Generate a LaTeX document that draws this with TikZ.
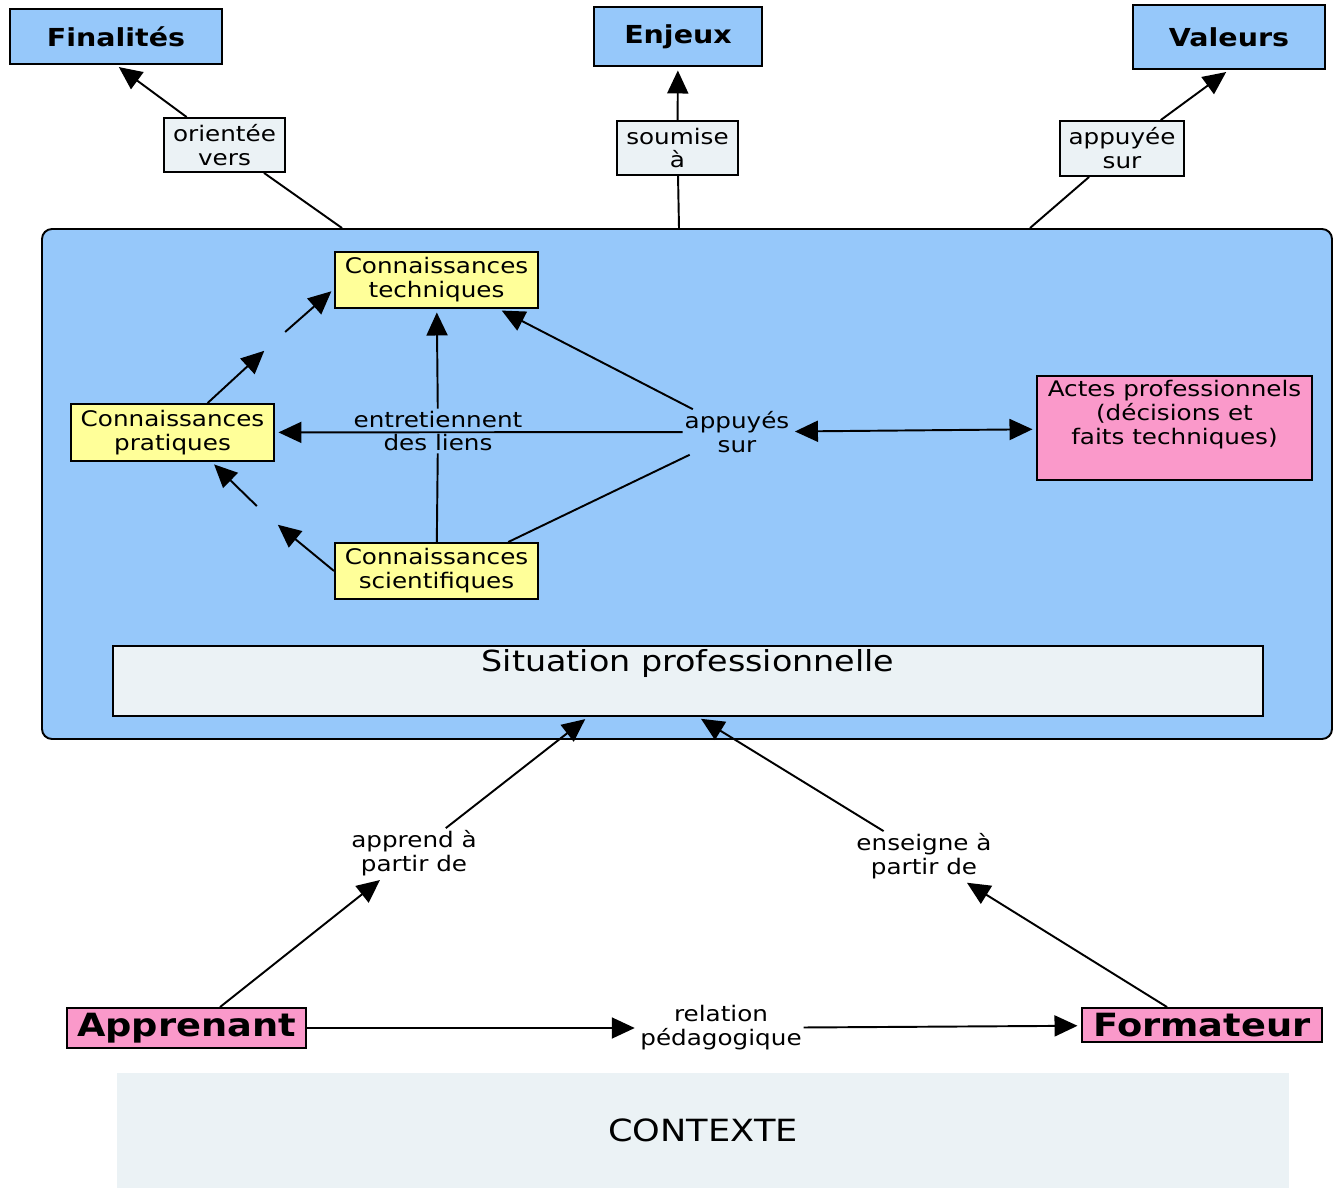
\documentclass[tikz,border=0pt]{standalone}
\usepackage{fontspec}
\setmainfont{DejaVu Sans}[FakeStretch=1.15]
\usetikzlibrary{arrows.meta}
\definecolor{Skyblue}{RGB}{150, 200, 250}
\definecolor{Paleyellow}{RGB}{255, 255, 153}
\definecolor{Rosepink}{RGB}{250, 153, 202}
\definecolor{Palegray}{RGB}{235, 242, 245}

\begin{document}
\begin{tikzpicture}[
  >={Triangle[length=4.6mm,width=4.2mm]},
  cadre/.style={draw, line width=1.1pt, align=center, inner sep=1pt},
  titre/.style={cadre, fill=Skyblue, font=\fontsize{14.1}{17}\selectfont\bfseries},
  lien/.style={cadre, fill=Palegray, minimum width=2.42cm, minimum height=1.08cm, font=\fontsize{12.2}{13.6}\selectfont},
  savoir/.style={cadre, fill=Paleyellow, minimum width=4.06cm, minimum height=1.12cm, font=\fontsize{12.2}{13.6}\selectfont},
  acteur/.style={cadre, fill=Rosepink, font=\fontsize{18.2}{21}\selectfont\bfseries},
  phrase/.style={align=center, inner sep=1pt, font=\fontsize{12.2}{13.6}\selectfont},
  vide/.style={inner sep=5pt},
  fleche/.style={line width=1.1pt, ->, shorten >=2pt},
  trait/.style={line width=1.1pt}
]
\useasboundingbox (0,0) rectangle (26.72,-23.76);
%% the big blue zone first
\node[draw, fill=Skyblue, line width=1.1pt, rounded corners=0.2cm, minimum width=25.80cm, minimum height=10.20cm] (cont) at (13.74,-9.68) {};
\node[fill=Palegray, minimum width=23.44cm, minimum height=2.30cm, font=\fontsize{17.4}{20}\selectfont] (ctx) at (14.06,-22.61) {CONTEXTE};

\node[titre, minimum width=4.24cm, minimum height=1.10cm] (fin) at (2.32,-0.73) {Finalités};
\node[titre, minimum width=3.36cm, minimum height=1.18cm] (enj) at (13.56,-0.73) {Enjeux};
\node[titre, minimum width=3.84cm, minimum height=1.28cm] (val) at (24.58,-0.74) {Valeurs};
\node[lien] (orient) at (4.49,-2.90) {orientée\\vers};
\node[lien] (soum) at (13.55,-2.96) {soumise\\à};
\node[lien, minimum width=2.48cm, minimum height=1.10cm] (appv) at (22.44,-2.97) {appuyée\\sur};

\node[savoir] (tech) at (8.73,-5.60) {Connaissances\\techniques};
\node[savoir, minimum height=1.14cm] (prat) at (3.45,-8.65) {Connaissances\\pratiques};
\node[savoir] (sci) at (8.73,-11.42) {Connaissances\\scientifiques};
\node[cadre, fill=Rosepink, minimum width=5.50cm, minimum height=2.08cm, font=\fontsize{12.2}{13.6}\selectfont] (actes) at (23.49,-8.56) {Actes professionnels\\(décisions et\\faits techniques)\\\strut};
\node[phrase] (appui) at (14.74,-8.64) {appuyés\\sur};
\node[phrase] (entr) at (8.76,-8.62) {entretiennent\\des liens};
\node[vide] (mA) at (5.52,-6.80) {};
\node[vide] (mB) at (5.32,-10.30) {};
\node[cadre, fill=Palegray, minimum width=23.00cm, minimum height=1.40cm, font=\fontsize{16.5}{18}\selectfont] (sitp) at (13.76,-13.62) {Situation professionnelle\\\strut};

\node[acteur, minimum width=4.78cm, minimum height=0.80cm] (appr) at (3.73,-20.56) {Apprenant};
\node[acteur, minimum width=4.80cm, minimum height=0.68cm] (form) at (24.04,-20.50) {Formateur};
\node[phrase] (rel) at (14.42,-20.56) {relation\\pédagogique};
\node[phrase] (apl) at (8.28,-17.06) {apprend à\\partir de};
\node[phrase] (ens) at (18.48,-17.12) {enseigne à\\partir de};

%% top links
\draw[trait] ([xshift=-6.90cm]cont.north) -- (orient);
\draw[fleche] (orient) -- (fin.south);
\draw[trait] ([xshift=-0.16cm]cont.north) -- (soum);
\draw[fleche] (soum) -- (enj);
\draw[trait] ([xshift=6.86cm]cont.north) -- (appv);
\draw[fleche] (appv) -- (val.south);

%% inside
\draw[fleche] (prat.40) -- (mA);
\draw[fleche] (mA) -- (tech.185);
\draw[fleche] (sci.west) -- (mB);
\draw[fleche] (mB) -- (prat.-37);
\draw[trait] (sci) -- (entr);
\draw[fleche] (entr) -- (tech);
\draw[trait] (sci.22) -- (appui);
\draw[fleche] (appui) -- (tech.-25);
\draw[fleche] (appui) -- (prat);
\draw[fleche, <->, shorten <=2pt] (appui) -- (actes);

%% bottom
\draw[fleche] (appr.32) -- (apl);
\draw[fleche] (apl) -- ([xshift=-2.00cm]sitp.south);
\draw[fleche] ([xshift=-0.70cm]form.north) -- (ens);
\draw[fleche] (ens) -- ([xshift=0.20cm]sitp.south);
\draw[fleche] (appr) -- (rel);
\draw[fleche] (rel) -- (form);
\end{tikzpicture}
\end{document}
